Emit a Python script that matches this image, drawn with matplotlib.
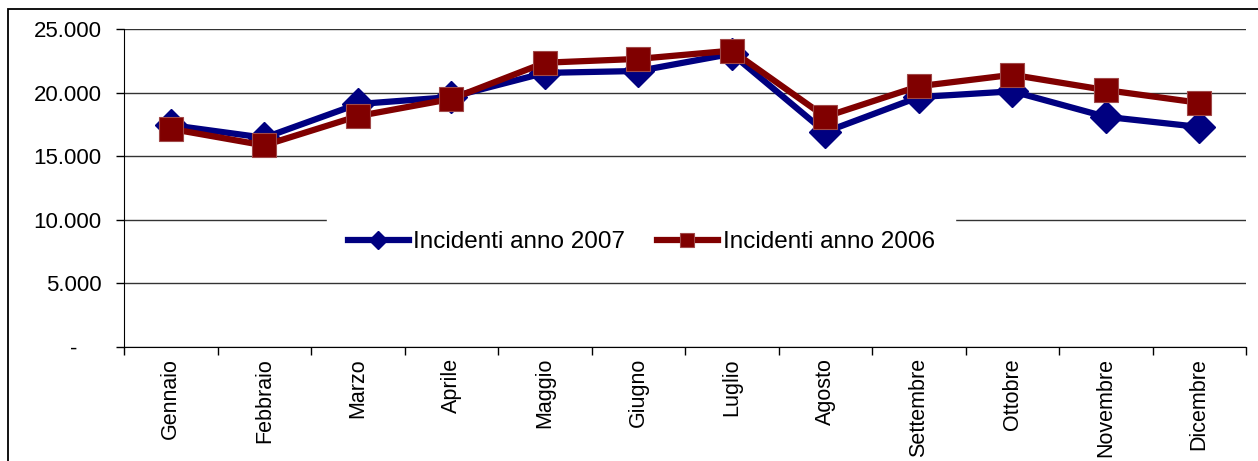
import matplotlib
matplotlib.use('Agg')
import matplotlib.pyplot as plt
from matplotlib.patches import Rectangle
from matplotlib.ticker import FuncFormatter
import numpy as np

mesi = ['Gennaio', 'Febbraio', 'Marzo', 'Aprile', 'Maggio', 'Giugno',
        'Luglio', 'Agosto', 'Settembre', 'Ottobre', 'Novembre', 'Dicembre']
incidenti_2007 = [17450, 16450, 19100, 19650, 21550, 21700,
                  23050, 16900, 19650, 20100, 18100, 17300]
incidenti_2006 = [17150, 15850, 18150, 19500, 22350, 22650,
                  23300, 18100, 20500, 21400, 20200, 19200]
y_ticks = [0, 5000, 10000, 15000, 20000, 25000]

plt.rcParams['font.family'] = ['Liberation Sans', 'DejaVu Sans']

fig = plt.figure(figsize=(12.58, 4.61), dpi=100)
ax = fig.add_axes([124 / 1258, 1 - 347 / 461, (1246 - 124) / 1258, (347 - 29) / 461])

x = np.arange(len(mesi))
ax.plot(x, incidenti_2007, color='#000080', lw=4.5, marker='D', ms=16,
        mec='#000080', label='Incidenti anno 2007', zorder=3)
ax.plot(x, incidenti_2006, color='#800000', lw=4.5, marker='s', ms=17,
        mec='#a04848', mew=0.8, label='Incidenti anno 2006', zorder=4)

ax.set_xlim(-0.5, len(mesi) - 0.5)
ax.set_ylim(0, 25000)
ax.set_yticks(y_ticks)
ax.yaxis.set_major_formatter(FuncFormatter(
    lambda v, p: '-    ' if v == 0 else f'{int(v):,}'.replace(',', '.')))
ax.yaxis.grid(True, color='#333333', lw=1)
ax.set_axisbelow(True)

ax.set_xticks(x)
ax.set_xticklabels(mesi, rotation=90, fontsize=15.5)
ax.tick_params(axis='x', length=0, pad=8)
ax.set_xticks(np.arange(-0.5, len(mesi)), minor=True)
ax.tick_params(axis='x', which='minor', length=6, width=1, direction='out')
ax.tick_params(axis='y', length=6, width=1, labelsize=16, pad=10)

for s in ['top', 'right']:
    ax.spines[s].set_visible(False)
for s in ['left', 'bottom']:
    ax.spines[s].set_color('black')

leg = ax.legend(loc='center', bbox_to_anchor=(0.461, 0.33), ncol=2,
                frameon=True, fontsize=17.5, handlelength=2.5,
                handletextpad=0.2, markerscale=0.6,
                columnspacing=1.3, borderpad=0.5, borderaxespad=0)
leg.get_frame().set_edgecolor('white')
leg.get_frame().set_facecolor('white')
leg.get_frame().set_alpha(1)
leg.get_frame().set_boxstyle('square', pad=0.35)

fig.patches.append(Rectangle((8 / 1258, -0.1), 1.2, 1 - 9 / 461 + 0.1,
                             transform=fig.transFigure, fill=False,
                             edgecolor='black', lw=1.3))

fig.savefig('out.png', dpi=100)
